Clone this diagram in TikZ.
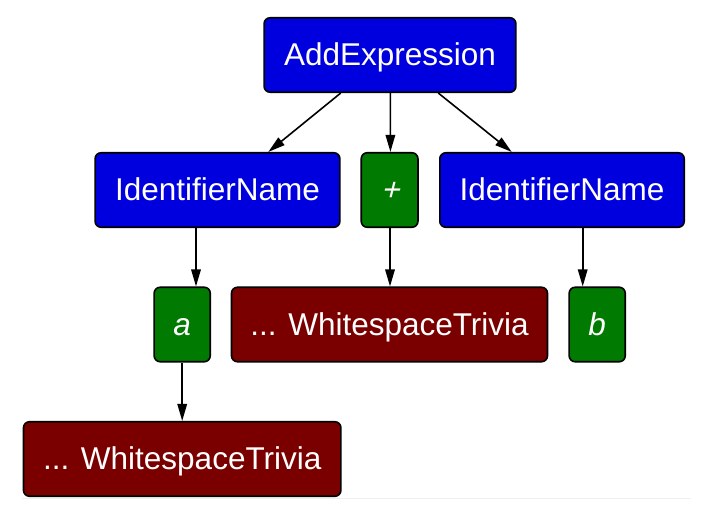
\documentclass[tikz,border=0pt]{standalone}
\usepackage{fontspec}
\setmainfont{Liberation Sans}
\newfontfamily\slantfont[FakeSlant=0.25]{Liberation Sans}
\usetikzlibrary{arrows.meta}
\definecolor{nodeblue}{RGB}{0,0,222}
\definecolor{nodegreen}{RGB}{0,122,0}
\definecolor{nodered}{RGB}{122,0,0}
\tikzset{
  box/.style={draw=black, line width=1.6pt, rounded corners=6pt, text=white,
    minimum height=74.5pt, inner sep=0pt, text height=21pt, text depth=0pt,
    font=\fontsize{31.5}{36}\selectfont},
  blue box/.style={box, fill=nodeblue},
  green box/.style={box, fill=nodegreen, font=\fontsize{31.5}{36}\selectfont\itshape},
  red box/.style={box, fill=nodered},
  edge/.style={line width=1.6pt, -{Triangle[length=17pt,width=9.5pt]}}
}
\begin{document}
\begin{tikzpicture}[x=1pt,y=-1pt]
\useasboundingbox (0,0) rectangle (708,512);
\draw[color=black!6, line width=1.5pt] (22,498.5) -- (691,498.5);
\node[blue box, minimum width=251.8pt] (add) at (390,55) {AddExpression};
\node[blue box, minimum width=244.8pt] (id1) at (217.5,190) {IdentifierName};
\node[green box, minimum width=56.7pt] (plus) at (389.6,190) {\slantfont +};
\node[blue box, minimum width=244.4pt] (id2) at (562,190) {IdentifierName};
\node[green box, minimum width=56.1pt] (a) at (182.2,324.5) {a};
\node[red box, minimum width=316pt] (ws1) at (389.5,324.5) {... WhitespaceTrivia};
\node[green box, minimum width=56.1pt] (b) at (597.2,324.5) {b};
\node[red box, minimum width=317.4pt] (ws2) at (182.2,459) {... WhitespaceTrivia};
\draw[edge] ([xshift=-49.3pt]add.south) -- ([xshift=50.8pt]id1.north);
\draw[edge] ([xshift=0.4pt]add.south) -- ([xshift=0.8pt]plus.north);
\draw[edge] ([xshift=48.3pt]add.south) -- ([xshift=-50.3pt]id2.north);
\draw[edge] ([xshift=-21.5pt]id1.south) -- ([xshift=13.8pt]a.north);
\draw[edge] ([xshift=0.4pt]plus.south) -- ([xshift=0.5pt]ws1.north);
\draw[edge] ([xshift=20.7pt]id2.south) -- ([xshift=-14.5pt]b.north);
\draw[edge] (a.south) -- (ws2.north);
\end{tikzpicture}
\end{document}
